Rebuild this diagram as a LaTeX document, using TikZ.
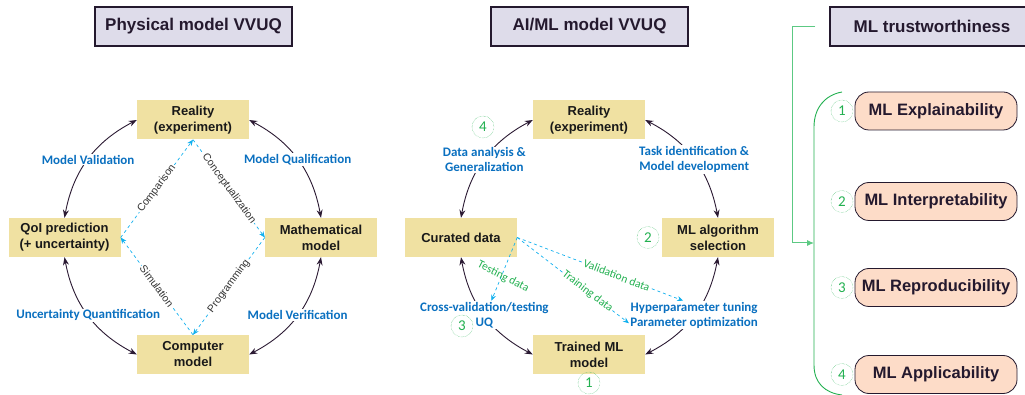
\documentclass[tikz,border=0pt]{standalone}
\usepackage{fontspec}
\setmainfont{Liberation Sans}
\newfontfamily\calfont{Carlito}
\usetikzlibrary{arrows.meta}

\definecolor{headfill}{HTML}{DEDCEA}
\definecolor{stagefill}{HTML}{F0E1A2}
\definecolor{traitfill}{HTML}{FDDCC8}
\definecolor{ink}{HTML}{24192E}
\definecolor{arcink}{HTML}{2B1A33}
\definecolor{taskblue}{HTML}{0A70C0}
\definecolor{flowcyan}{HTML}{12B0EE}
\definecolor{numgreen}{HTML}{22B050}
\definecolor{linkgreen}{HTML}{5CC983}
\definecolor{notegray}{HTML}{333333}

\tikzset{
  head/.style={draw=ink, line width=1.2pt, fill=headfill, minimum width=197pt,
    minimum height=39pt, text=ink, font=\bfseries\fontsize{17}{20}\selectfont},
  stage/.style={fill=stagefill, minimum width=112pt, minimum height=39pt,
    align=center, text=black!90, font=\bfseries\fontsize{13}{16}\selectfont},
  trait/.style={draw=ink, line width=0.8pt, fill=traitfill, rounded corners=14pt,
    minimum width=162pt, minimum height=38pt, text=ink,
    font=\bfseries\fontsize{16.5}{19}\selectfont},
  badge/.style={circle, draw=numgreen, densely dotted, text=numgreen,
    minimum size=22pt, inner sep=0pt, font=\calfont\fontsize{15}{15}\selectfont},
  vvarc/.style={{Stealth[length=8pt,width=6pt]}-{Stealth[length=8pt,width=6pt]},
    draw=arcink, line width=0.9pt},
  tasklbl/.style={fill=white, text=taskblue, align=center, inner sep=1pt,
    font=\calfont\bfseries\fontsize{13}{15}\selectfont},
  flow/.style={-{Stealth[length=6pt,width=5pt]}, dashed, draw=flowcyan, line width=0.7pt},
  note/.style={midway, sloped, fill=white, inner sep=1pt, text=notegray,
    font=\fontsize{10.5}{12}\selectfont},
  datalbl/.style={fill=white, inner sep=0.5pt, text=numgreen,
    font=\calfont\fontsize{11.5}{13}\selectfont},
  brace/.style={draw=numgreen, line width=0.9pt},
  link/.style={draw=linkgreen, line width=1pt, -{Latex[length=7pt,width=6pt]}},
}

\begin{document}
\begin{tikzpicture}[x=1pt,y=-1pt]
  \useasboundingbox (0,0) rectangle (1025,395);

  % titles
  \node[head] (phys) at (193.5,26.5) {Physical model VVUQ};
  \node[head] (aiml) at (589.5,26.5) {AI/ML model VVUQ};
  \node[head, minimum width=204pt] (trust) at (932,26.5) {ML trustworthiness};

  % Physical model
  \node[stage] (preal) at (193,120) {Reality\\(experiment)};
  \node[stage] (qoi) at (64.5,237.5) {QoI prediction\\(+ uncertainty)};
  \node[stage] (math) at (321,237.5) {Mathematical\\model};
  \node[stage] (comp) at (193,354.5) {Computer\\model};

  \draw[vvarc] (qoi.north) to[bend left=26] node[tasklbl] {Model Validation} (preal.west);
  \draw[vvarc] (preal.east) to[bend left=26] node[tasklbl] {Model Qualification} (math.north);
  \draw[vvarc] (qoi.south) to[bend right=26] node[tasklbl] {Uncertainty Quantification} (comp.west);
  \draw[vvarc] (math.south) to[bend left=26] node[tasklbl] {Model Verification} (comp.east);

  \draw[flow] (qoi.east) -- node[note] {Comparison} (preal.south);
  \draw[flow] (preal.south) -- node[note] {Conceptualization} (math.west);
  \draw[flow] (math.west) -- node[note] {Programming} (comp.north);
  \draw[flow] (comp.north) -- node[note] {Simulation} (qoi.east);

  % AI/ML model
  \node[stage] (mreal) at (589,120) {Reality\\(experiment)};
  \node[stage] (cur) at (461,237.5) {Curated data};
  \node[stage] (algo) at (718,237.5) {ML algorithm\\selection};
  \node[stage] (trained) at (589,354.5) {Trained ML\\model};

  \draw[vvarc] (cur.north) to[bend left=26] node[tasklbl] (gen) {Data analysis \&\\Generalization} (mreal.west);
  \draw[vvarc] (mreal.east) to[bend left=26] node[tasklbl] (task) {Task identification \&\\Model development} (algo.north);
  \draw[vvarc] (cur.south) to[bend right=26] node[tasklbl] (cv) {Cross-validation/testing\\UQ} (trained.west);
  \draw[vvarc] (algo.south) to[bend left=26] node[tasklbl] (hyper) {Hyperparameter tuning\\Parameter optimization} (trained.east);

  \draw[flow] (cur.east) -- node[pos=0.6, sloped, datalbl] {Validation data} ([xshift=-11pt]hyper.north);
  \draw[flow] (cur.east) -- node[pos=0.63, sloped, datalbl] {Training data} ([yshift=-8pt]hyper.west);
  \draw[flow] (cur.east) -- node[pos=0.62, xshift=2pt, rotate=-27, datalbl, fill=none] {Testing data} ([xshift=7pt]cv.north);

  \node[badge] (m4) at (483,127) {4};
  \node[badge] (m2) at (648,237.5) {2};
  \node[badge] (m3) at (462,326) {3};
  \node[badge] (m1) at (589,383) {1};

  % ML trustworthiness
  \node[trait] (expl) at (936,111) {ML Explainability};
  \node[trait] (interp) at (936,201.5) {ML Interpretability};
  \node[trait] (repro) at (936,287.5) {ML Reproducibility};
  \node[trait] (appl) at (936,374.5) {ML Applicability};

  \node[badge] (t1) at (842,111) {1};
  \node[badge] (t2) at (842,201.5) {2};
  \node[badge] (t3) at (842,287.5) {3};
  \node[badge] (t4) at (842,374.5) {4};

  \draw[brace] (842,92) .. controls (825,95) and (814,108) .. (814,127)
    -- (814,365) .. controls (814,383) and (825,393) .. (842,395);
  \coordinate (bracemid) at (814,243);
  \draw[link] ([xshift=-14pt]trust.west) -- ++(-23,0) |- (bracemid);
\end{tikzpicture}
\end{document}
